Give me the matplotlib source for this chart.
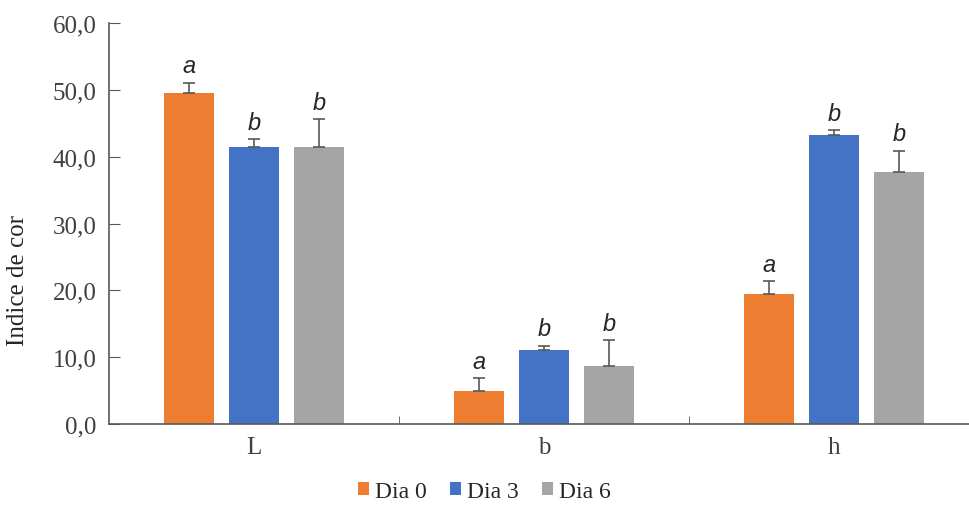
import numpy as np
import matplotlib
matplotlib.use('Agg')
import matplotlib.pyplot as plt

# data
categories = ['L', 'b', 'h']
series     = ['Dia 0', 'Dia 3', 'Dia 6']
values = {'Dia 0': [49.6, 4.9, 19.5],
          'Dia 3': [41.4, 11.0, 43.3],
          'Dia 6': [41.4, 8.7, 37.7]}
errors = {'Dia 0': [1.5, 2.0, 1.9],
          'Dia 3': [1.2, 0.7, 0.7],
          'Dia 6': [4.2, 3.8, 3.2]}
letters = {'Dia 0': ['a', 'a', 'a'],
           'Dia 3': ['b', 'b', 'b'],
           'Dia 6': ['b', 'b', 'b']}
colors = ['#ED7D31', '#4472C4', '#A5A5A5']
yticks = [0, 10, 20, 30, 40, 50, 60]

plt.rcParams['font.family'] = ['Liberation Serif', 'DejaVu Serif']

fig = plt.figure(figsize=(9.69, 5.10), dpi=100)
ax = fig.add_axes([0.1125, 0.1667, 0.898, 0.786])

x = np.arange(len(categories))
width = 0.172
step = 0.224

for i, s in enumerate(series):
    pos = x + (i - 1) * step
    ax.bar(pos, values[s], width, color=colors[i], label=s, zorder=2)
    ax.errorbar(pos, values[s], yerr=[np.zeros(3), errors[s]], fmt='none',
                ecolor='#595959', elinewidth=1.2, capsize=4, capthick=1.2, zorder=3)
    for j in range(len(categories)):
        ax.text(pos[j], values[s][j] + errors[s][j] + 0.8, letters[s][j],
                ha='center', va='bottom', fontsize=17, style='italic',
                family=['Liberation Sans', 'DejaVu Sans'], color='#262626')

ax.set_xlim(-0.5, 2.5)
ax.set_ylim(0, 60)
ax.set_yticks(yticks)
ax.set_yticklabels([f'{t:.1f}'.replace('.', ',') for t in yticks], fontsize=18,
                   color='#404040')
ax.set_xticks(x)
ax.set_xticklabels(categories, fontsize=18, color='#404040')
ax.set_xticks([0.5, 1.5], minor=True)
ax.tick_params(axis='x', which='major', length=0, pad=9)
ax.tick_params(axis='x', which='minor', direction='in', length=6, color='#595959')
ax.tick_params(axis='y', direction='in', length=8, color='#595959', pad=9)

for sp in ['top', 'right']:
    ax.spines[sp].set_visible(False)
for sp in ['left', 'bottom']:
    ax.spines[sp].set_color('#595959')
    ax.spines[sp].set_linewidth(1.2)

ax.set_ylabel('Indice de cor', fontsize=18, color='#262626')
ax.yaxis.set_label_coords(-0.092, 0.36)

fig.legend(loc='center', bbox_to_anchor=(0.5, 0.034), ncol=3, frameon=False,
           fontsize=17, handlelength=0.45, handleheight=0.45, handletextpad=0.25,
           columnspacing=1.0, labelcolor='#262626')

fig.savefig('out.png', dpi=100)
